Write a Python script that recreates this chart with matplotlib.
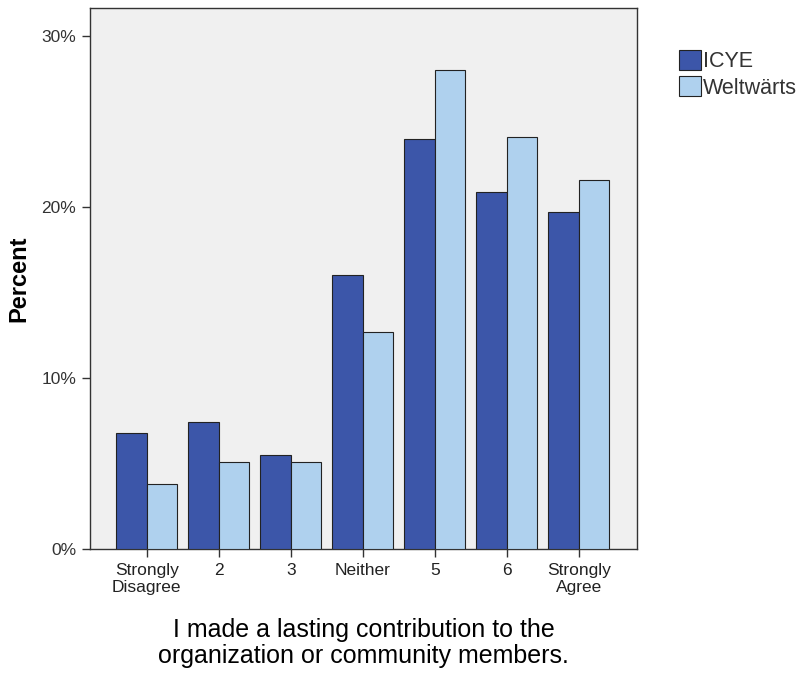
import matplotlib
matplotlib.use("Agg")
import matplotlib.pyplot as plt
import numpy as np

plt.rcParams['font.family'] = ['Liberation Sans', 'DejaVu Sans']

categories = ["Strongly\nDisagree", "2", "3", "Neither", "5", "6", "Strongly\nAgree"]
icye = [6.8, 7.4, 5.5, 16.0, 24.0, 20.9, 19.7]
weltwaerts = [3.8, 5.1, 5.1, 12.7, 28.0, 24.1, 21.6]
series_names = ["ICYE", "Weltwärts"]
yticks = [0, 10, 20, 30]
ytick_labels = ["0%", "10%", "20%", "30%"]

fig = plt.figure(figsize=(8.03, 6.77), dpi=100)
fig.patch.set_facecolor("white")
ax = fig.add_axes([90/803, (677-549)/677, (637-90)/803, (549-8)/677])
ax.set_facecolor("#F0F0F0")

x = np.arange(len(categories))
w = 0.425
b1 = ax.bar(x - w/2, icye, w, color="#3C56A9", edgecolor="#222222", linewidth=0.8, label=series_names[0], zorder=3)
b2 = ax.bar(x + w/2, weltwaerts, w, color="#AFD1EE", edgecolor="#222222", linewidth=0.8, label=series_names[1], zorder=3)

ax.set_xlim(-0.79, 6.81)
ax.set_ylim(0, 31.64)
ax.set_yticks(yticks)
ax.set_yticklabels(ytick_labels, fontsize=12.5, color="#333333")
ax.set_xticks(x)
ax.set_xticklabels(categories, fontsize=12.5, color="#222222", linespacing=1.15)
ax.tick_params(axis="both", length=6, width=1, color="#333333", pad=4)
for s in ax.spines.values():
    s.set_color("#333333")
    s.set_linewidth(1)

ax.set_ylabel("Percent", fontsize=17, fontweight="bold", labelpad=8)
ax.set_xlabel("I made a lasting contribution to the\norganization or community members.", fontsize=18, labelpad=17, linespacing=1.1)

leg = fig.legend(handles=[b1, b2], labels=series_names, loc="upper left",
                 bbox_to_anchor=(670/803, 1 - 41/677), frameon=False, fontsize=15.5,
                 handlelength=1.05, handleheight=1.05, handletextpad=0.1, labelspacing=0.2,
                 borderaxespad=0)
for t in leg.get_texts():
    t.set_color("#333333")

fig.savefig("out.png", dpi=100, facecolor="white")
